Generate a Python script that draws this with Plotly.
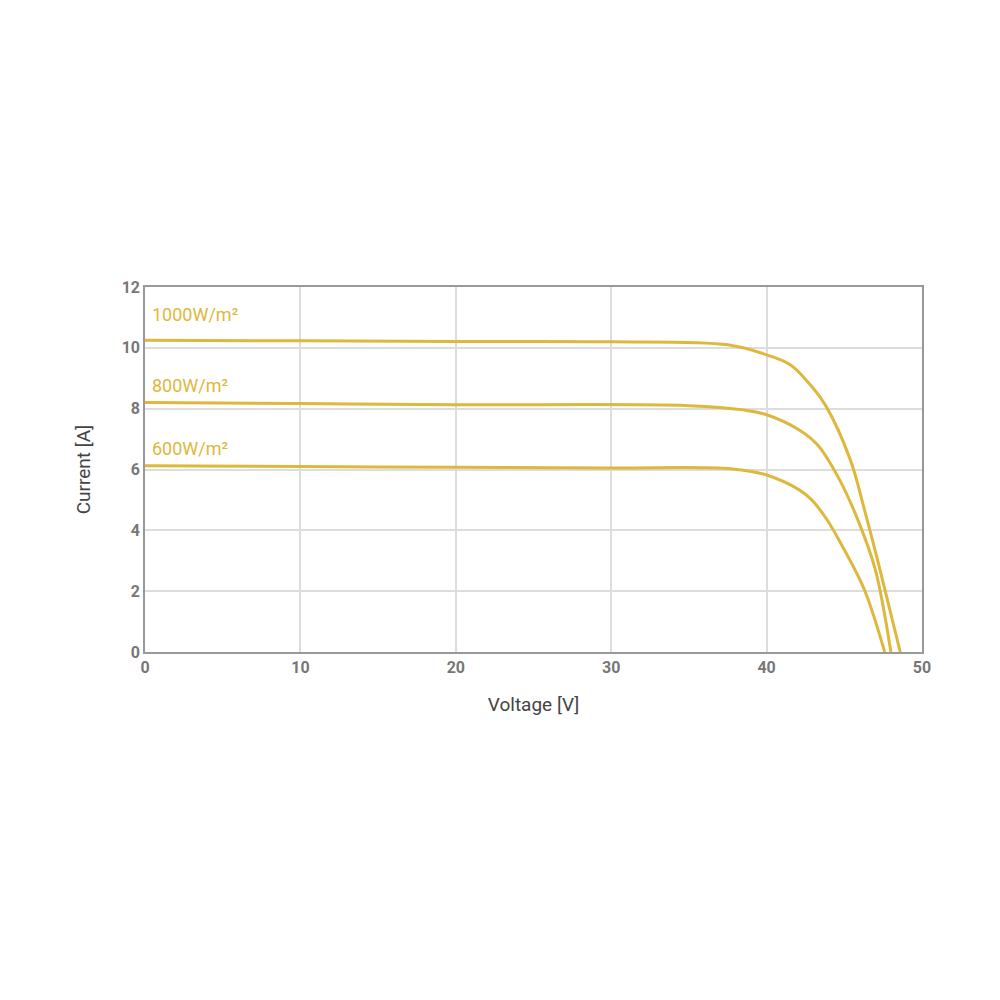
import plotly.graph_objects as go

v1000 = [0, 10, 20, 30, 37.5, 40, 41.5, 42.7, 43.8, 45.4, 46.3, 47.3, 48.6]
i1000 = [10.25, 10.23, 10.21, 10.2, 10.1, 9.77, 9.45, 8.85, 8.1, 6.3, 4.67, 2.7, 0]
v800 = [0, 10, 20, 35, 38.5, 40, 42.1, 43.3, 44.7, 46.0, 47.0, 48.0]
i800 = [8.2, 8.17, 8.13, 8.1, 7.96, 7.8, 7.3, 6.8, 5.66, 4.18, 2.7, 0]
v600 = [0, 10, 20, 30, 37.8, 40, 42.1, 42.9, 43.9, 45.0, 46.3, 47.6]
i600 = [6.12, 6.1, 6.07, 6.05, 6.02, 5.82, 5.33, 5.0, 4.34, 3.36, 2.04, 0]
labels = ["1000W/m²", "800W/m²", "600W/m²"]
label_y = [11.1, 8.75, 6.7]

col = "#DDB83C"
fig = go.Figure()
for v, i in [(v1000, i1000), (v800, i800), (v600, i600)]:
    fig.add_trace(go.Scatter(x=v, y=i, mode="lines", line=dict(color=col, width=3, shape="spline", smoothing=1.0), showlegend=False))
for t, y in zip(labels, label_y):
    fig.add_annotation(x=0.3, y=y, text=t, showarrow=False, xanchor="left", font=dict(color=col, size=18, family="Roboto"))

ax = dict(showline=True, mirror=True, linecolor="#999", linewidth=1.5, gridcolor="#ddd", gridwidth=1.5,
          zeroline=False, ticks="", tickfont=dict(size=16, color="#777", family="Roboto", weight="bold"))
fig.update_xaxes(range=[0, 50], dtick=10, title=dict(text="Voltage [V]", font=dict(size=19, color="#444", family="Roboto"), standoff=22), **ax)
fig.update_yaxes(range=[0, 12], dtick=2, title=dict(text="Current [A]", font=dict(size=19, color="#444", family="Roboto"), standoff=26), **ax)
fig.update_layout(width=1000, height=1000, plot_bgcolor="white", paper_bgcolor="white",
                  margin=dict(l=137, r=86, t=279, b=356))
fig.write_html("out.html")
